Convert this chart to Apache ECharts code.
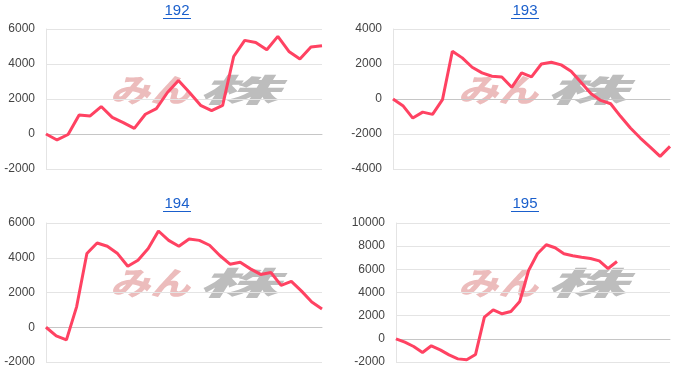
<!DOCTYPE html>
<html><head><meta charset="utf-8">
<script src="https://cdn.jsdelivr.net/npm/echarts@6/dist/echarts.min.js"></script>
<style>html,body{margin:0;padding:0;background:#fff}#c{width:700px;height:386px}</style>
</head><body><div id="c"></div>
<script>
var titles = ['192', '193', '194', '195'];
var d192 = [0,-340,-30,1090,1030,1570,950,650,320,1130,1450,2370,3060,2370,1640,1340,1640,4430,5350,5230,4810,5580,4720,4280,4970,5040];
var d193 = [0,-380,-1090,-750,-880,-40,2730,2350,1815,1490,1300,1260,670,1490,1260,2000,2100,1950,1590,960,310,-80,-270,-990,-1660,-2230,-2750,-3280,-2710];
var d194 = [0,-500,-730,1190,4240,4850,4660,4240,3510,3860,4530,5540,5000,4660,5080,5000,4720,4130,3630,3740,3360,3040,3150,2410,2640,2080,1450,1050];
var d195 = [0,-290,-660,-1180,-600,-950,-1380,-1730,-1810,-1350,1870,2500,2160,2360,3220,5900,7340,8120,7860,7340,7170,7050,6940,6730,6070,6680];
var catCounts = [26, 29, 28, 32];
var yMin = [-2000, -4000, -2000, -2000];
var yMax = [6000, 4000, 6000, 10000];
var yStep = [2000, 2000, 2000, 2000];

var series = [d192, d193, d194, d195];
var grids = [
  {left: 46, top: 29, width: 276, height: 140},
  {left: 393, top: 29, width: 277, height: 140},
  {left: 46, top: 223, width: 276, height: 139},
  {left: 396, top: 223, width: 274, height: 139}
];
var titleX = [177, 525, 177, 525];
var titleY = [11, 11, 204, 204];
var wmX = [110, 458, 110, 458];
var wmY = [90, 90, 283, 283];

function cats(n){ var a=[]; for (var i=1;i<=n;i++) a.push(String(i)); return a; }

var xAxes = [], yAxes = [], ser = [], graphics = [];
for (var i = 0; i < 4; i++) {
  xAxes.push({
    gridIndex: i, type: 'category', boundaryGap: false, data: cats(catCounts[i]),
    axisLine: {show: true, onZero: true, lineStyle: {color: '#c6c6c6', width: 1}},
    axisTick: {show: false}, axisLabel: {show: false}, splitLine: {show: false}
  });
  yAxes.push({
    gridIndex: i, type: 'value', min: yMin[i], max: yMax[i], interval: yStep[i],
    axisLine: {show: true, lineStyle: {color: '#e4e4e4'}},
    axisTick: {show: false},
    axisLabel: {color: '#444', fontSize: 12, fontFamily: 'Arial, "Liberation Sans", sans-serif', margin: 11,
      formatter: function (v) { return String(v); }},
    splitLine: {show: true, lineStyle: {color: '#e4e4e4', width: 1}}
  });
  ser.push({
    type: 'line', xAxisIndex: i, yAxisIndex: i, data: series[i],
    showSymbol: false, symbol: 'none', smooth: false, z: 5,
    lineStyle: {color: '#ff4262', width: 3}, itemStyle: {color: '#ff4262'}
  });
  graphics.push({
    type: 'text', x: titleX[i], y: titleY[i], z: 10,
    style: {text: titles[i], fill: '#1a5fcc', font: '15px Arial, "Liberation Sans", sans-serif',
      textAlign: 'center', textVerticalAlign: 'middle'}
  });
  graphics.push({
    type: 'line', z: 10,
    shape: {x1: titleX[i] - 14, y1: titleY[i] + 7.5, x2: titleX[i] + 14, y2: titleY[i] + 7.5},
    style: {stroke: '#1a5fcc', lineWidth: 1}
  });
  graphics.push({
    type: 'text', x: wmX[i], y: wmY[i], z: -1, scaleX: 1.25, originX: 0, originY: 0,
    style: {text: 'みん', fill: '#ecbcbc', font: 'italic 900 32px "Noto Sans CJK JP", sans-serif',
      textAlign: 'left', textVerticalAlign: 'middle'}
  });
  graphics.push({
    type: 'text', x: wmX[i] + 88, y: wmY[i], z: -1, scaleX: 2.5, originX: 0, originY: 0,
    style: {text: '株', fill: '#bdbdbd', font: 'italic 900 32px "Noto Sans CJK JP", sans-serif',
      textAlign: 'left', textVerticalAlign: 'middle'}
  });
}

var chart = echarts.init(document.getElementById('c'));
chart.setOption({
  animation: false,
  backgroundColor: '#fff',
  grid: grids,
  xAxis: xAxes,
  yAxis: yAxes,
  series: ser,
  graphic: graphics
});
</script></body></html>
